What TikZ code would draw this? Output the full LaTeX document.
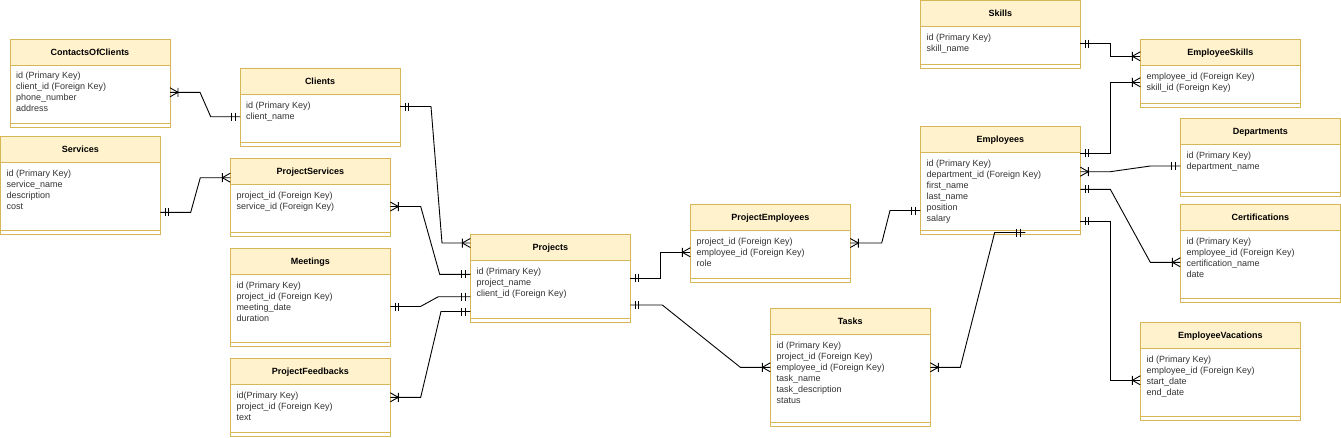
\documentclass[tikz,border=0pt]{standalone}
\usepackage{fontspec}
\setmainfont{Liberation Sans}
\usetikzlibrary{calc}
\definecolor{hdr}{HTML}{FFF2CC}
\definecolor{hdrline}{HTML}{D6B656}
\definecolor{bodytext}{HTML}{333333}
\tikzset{
  tbl/.style={rectangle, draw=none, fill=white, anchor=north west, inner sep=0pt, outer sep=0pt},
  tblline/.style={draw=hdrline, line width=0.9pt},
  ttl/.style={anchor=base, inner sep=0pt, font=\fontsize{9}{11}\selectfont\bfseries, text=black},
  rowtxt/.style={anchor=base west, inner sep=0pt, font=\fontsize{9}{11}\selectfont, text=bodytext},
  conn/.style={draw=black, line width=0.9pt, line join=miter},
  crowmany/.pic={\draw[conn] (-8,-4.5) -- (-8,4.5) (-8,0) -- (0,-4.5) (-8,0) -- (0,4.5);},
  crowone/.pic={\draw[conn] (-5,-4) -- (-5,4) (-8.5,-4) -- (-8.5,4);},
}
\newcommand\ertable[7]{%
  \node[tbl, minimum width=#4pt, minimum height=#5pt] (#1) at (#2,#3) {};
  \fill[hdr] (#1.north west) rectangle ($(#1.north east)+(0,26)$);
  \draw[tblline] ($(#1.north west)+(0,26)$) -- ($(#1.north east)+(0,26)$);
  \draw[tblline] ($(#1.south west)+(0,-4)$) -- ($(#1.south east)+(0,-4)$);
  \draw[tblline] (#1.north west) rectangle (#1.south east);
  \node[ttl] (#1-title) at ($(#1.north)+(0,16)$) {#6};
  \foreach \rowtext [count=\i] in {#7} {
    \node[rowtxt] (#1-r\i) at ($(#1.north west)+(6,28.8+11*\i)$) {\rowtext};
  }
}
\begin{document}
\begin{tikzpicture}[x=1pt,y=-1pt]
\useasboundingbox (0,0) rectangle (1341,437);
\fill[white] (0,0) rectangle (1341,437);

\ertable{contacts}{10}{39}{160}{88}{ContactsOfClients}{id (Primary Key),client\_id (Foreign Key),phone\_number,address}
\ertable{clients}{240}{68.3}{160}{78}{Clients}{id (Primary Key),client\_name}
\ertable{services}{0.5}{136.3}{159.8}{97.7}{Services}{id (Primary Key),service\_name,description,cost}
\ertable{pservices}{230.3}{158.3}{160}{77.7}{ProjectServices}{project\_id (Foreign Key),service\_id (Foreign Key)}
\ertable{meetings}{230.3}{248.3}{160}{98}{Meetings}{id (Primary Key),project\_id (Foreign Key),meeting\_date,duration}
\ertable{pfeed}{230.3}{358.3}{160}{78}{ProjectFeedbacks}{id(Primary Key),project\_id (Foreign Key),text}
\ertable{projects}{470.3}{234.3}{160}{88}{Projects}{id (Primary Key),project\_name,client\_id (Foreign Key)}
\ertable{pemp}{690.3}{204.3}{160}{78}{ProjectEmployees}{project\_id (Foreign Key),employee\_id (Foreign Key),role}
\ertable{tasks}{770.3}{308.3}{160}{118}{Tasks}{id (Primary Key),project\_id (Foreign Key),employee\_id (Foreign Key),task\_name,task\_description,status}
\ertable{skills}{920.3}{0.5}{160}{67.8}{Skills}{id (Primary Key),skill\_name}
\ertable{eskills}{1140.3}{39.3}{160}{68}{EmployeeSkills}{employee\_id (Foreign Key),skill\_id (Foreign Key)}
\ertable{employees}{920.3}{126.7}{160}{107.3}{Employees}{id (Primary Key),department\_id (Foreign Key),first\_name,last\_name,position,salary}
\ertable{depts}{1180.3}{118.3}{160}{78}{Departments}{id (Primary Key),department\_name}
\ertable{certs}{1180.3}{204.3}{160}{98}{Certifications}{id (Primary Key),employee\_id (Foreign Key),certification\_name,date}
\ertable{evac}{1140.3}{322.3}{160}{98}{EmployeeVacations}{id (Primary Key),employee\_id (Foreign Key),start\_date,end\_date}

% C1 ContactsOfClients - Clients
\draw[conn] (contacts.east |- 0,92.3) coordinate (c1a) -- (200,92.3) -- (210.7,116.7) -- (clients.west |- 0,116.7) coordinate (c1b);
\pic[xscale=-1] at (c1a) {crowmany};
\pic at (c1b) {crowone};
% C2 Clients - Projects
\draw[conn] (clients.east |- 0,106.5) coordinate (c2a) -- (431,106.5) -- (442,243) -- (projects.west |- 0,243) coordinate (c2b);
\pic[xscale=-1] at (c2a) {crowone};
\pic at (c2b) {crowmany};
% C3 Services - ProjectServices
\draw[conn] (services.east |- 0,212.3) coordinate (c3a) -- (190.7,212.3) -- (200.3,177.7) -- (pservices.west |- 0,177.7) coordinate (c3b);
\pic[xscale=-1] at (c3a) {crowone};
\pic at (c3b) {crowmany};
% C4 ProjectServices - Projects
\draw[conn] (pservices.east |- 0,206.5) coordinate (c4a) -- (420.7,206.5) -- (439.7,274.3) -- (projects.west |- 0,274.3) coordinate (c4b);
\pic[xscale=-1] at (c4a) {crowmany};
\pic at (c4b) {crowone};
% C5 Meetings - Projects
\draw[conn] (meetings.east |- 0,306.5) coordinate (c5a) -- (420.5,306.5) -- (438.3,296.7) -- (projects.west |- 0,296.7) coordinate (c5b);
\pic[xscale=-1] at (c5a) {crowone};
\pic at (c5b) {crowone};
% C6 ProjectFeedbacks - Projects
\draw[conn] (pfeed.east |- 0,397.3) coordinate (c6a) -- (420.7,397.3) -- (441,311.5) -- (projects.west |- 0,311.5) coordinate (c6b);
\pic[xscale=-1] at (c6a) {crowmany};
\pic at (c6b) {crowone};
% C7 Projects - ProjectEmployees
\draw[conn] (projects.east |- 0,278.3) coordinate (c7a) -- (660.3,278.3) -- (660.3,252.3) -- (pemp.west |- 0,252.3) coordinate (c7b);
\pic[xscale=-1] at (c7a) {crowone};
\pic at (c7b) {crowmany};
% C8 Projects - Tasks
\draw[conn] (projects.east |- 0,305) coordinate (c8a) -- (662.3,305) -- (740.3,367.3) -- (tasks.west |- 0,367.3) coordinate (c8b);
\pic[xscale=-1] at (c8a) {crowone};
\pic at (c8b) {crowmany};
% C9 ProjectEmployees - Employees
\draw[conn] (pemp.east |- 0,243) coordinate (c9a) -- (881.7,243) -- (890,210.5) -- (employees.west |- 0,210.5) coordinate (c9b);
\pic[xscale=-1] at (c9a) {crowmany};
\pic at (c9b) {crowone};
% C10 Skills - EmployeeSkills
\draw[conn] (skills.east |- 0,43.7) coordinate (c10a) -- (1110.3,43.7) -- (1110.3,56.3) -- (eskills.west |- 0,56.3) coordinate (c10b);
\pic[xscale=-1] at (c10a) {crowone};
\pic at (c10b) {crowmany};
% C11 Employees - EmployeeSkills
\draw[conn] (employees.east |- 0,153.3) coordinate (c11a) -- (1110.3,153.3) -- (1110.3,82.3) -- (eskills.west |- 0,82.3) coordinate (c11b);
\pic[xscale=-1] at (c11a) {crowone};
\pic at (c11b) {crowmany};
% C12 Employees - Departments
\draw[conn] (employees.east |- 0,171.7) coordinate (c12a) -- (1110.3,171.7) -- (1150.3,166) -- (depts.west |- 0,166) coordinate (c12b);
\pic[xscale=-1] at (c12a) {crowmany};
\pic at (c12b) {crowone};
% C13 Employees - Certifications
\draw[conn] (employees.east |- 0,189.3) coordinate (c13a) -- (1110.3,189.3) -- (1150.3,262.3) -- (certs.west |- 0,262.3) coordinate (c13b);
\pic[xscale=-1] at (c13a) {crowone};
\pic at (c13b) {crowmany};
% C14 Employees - EmployeeVacations
\draw[conn] (employees.east |- 0,221.3) coordinate (c14a) -- (1110.3,221.3) -- (1110.3,380.3) -- (evac.west |- 0,380.3) coordinate (c14b);
\pic[xscale=-1] at (c14a) {crowone};
\pic at (c14b) {crowmany};
% C15 Tasks - Employees
\draw[conn] (tasks.east |- 0,367.3) coordinate (c15a) -- (960.3,367.3) -- (994.7,232.5) -- ($(employees.south west)+(105,-1.5)$) coordinate (c15b);
\pic[xscale=-1] at (c15a) {crowmany};
\pic at (c15b) {crowone};
\end{tikzpicture}
\end{document}
